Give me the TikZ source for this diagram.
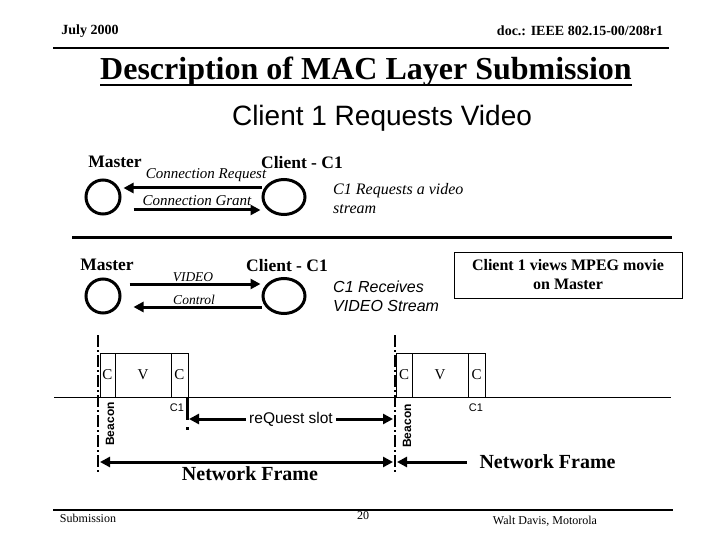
\documentclass[tikz,border=0pt]{standalone}
\usepackage{fontspec}
\setmainfont{Liberation Serif}
\setsansfont{Liberation Sans}
\usepackage{tikz}
\usetikzlibrary{shapes.geometric, arrows.meta, positioning}
\newcommand{\fsz}[1]{\fontsize{#1}{#1}\selectfont}

\begin{document}
\begin{tikzpicture}[x=1pt, y=-1pt,
    master/.style={circle, draw, line width=3pt, minimum size=34pt, inner sep=0pt},
    client/.style={ellipse, draw, line width=3pt, minimum width=42pt, minimum height=35pt, inner sep=0pt},
    arr/.style={-{Triangle[length=10pt,width=10pt]}, line width=3pt},
    darr/.style={{Triangle[length=10pt,width=10pt]}-{Triangle[length=10pt,width=10pt]}, line width=3pt},
    beacon/.style={line width=2.5pt, dash pattern=on 12pt off 3pt on 2pt off 3pt},
    slot/.style={draw, line width=0.8pt, minimum height=44pt, inner sep=0pt, outer sep=0pt,
                 anchor=south west, font=\fsz{15}},
    who/.style={font=\fsz{17.5}\bfseries, inner sep=0pt},
    msg/.style={font=\fsz{15}\itshape, inner sep=0pt},
    note/.style={inner sep=0pt, align=left, anchor=west},
    tiny/.style={font=\sffamily\fsz{11}, inner sep=0pt},
    rot/.style={font=\sffamily\bfseries\fsz{12}, inner sep=0pt, rotate=90},
]
    \useasboundingbox (0,0) rectangle (720,540);

    % page header and footer
    \node[font=\fsz{14}\bfseries] (date) at (90,31) {July 2000};
    \node[font=\fsz{14}\bfseries] (doc) at (580,31) {doc.: IEEE 802.15-00/208r1};
    \coordinate (hl) at (53,48);
    \coordinate (hr) at (669,48);
    \draw[line width=2.5pt] (hl) -- (hr);
    \node[font=\fsz{32}\bfseries, anchor=base, inner sep=0pt] (title) at (366,80) {Description of MAC Layer Submission};
    \draw[line width=2pt] ([yshift=-5pt]title.base west) -- ([yshift=-5pt]title.base east);
    \node[font=\sffamily\fsz{28}] (sub) at (382,118) {Client 1 Requests Video};
    \coordinate (fl) at (53,510);
    \coordinate (fr) at (673,510);
    \draw[line width=2.5pt] (fl) -- (fr);
    \node[font=\fsz{12}] (subm) at (88,518) {Submission};
    \node[font=\fsz{12}] (page) at (363,516) {20};
    \node[font=\fsz{12}] (auth) at (545,521) {Walt Davis, Motorola};

    % connection setup
    \node[who] (m1lab) at (115,162) {Master};
    \node[who] (c1lab) at (302,163) {Client - C1};
    \node[master] (m1) at (103,197) {};
    \node[client] (c1) at (284,197) {};
    \draw[arr] ([yshift=9pt]c1.west) -- ([yshift=9pt,xshift=2pt]m1.east);
    \draw[arr] ([yshift=-13pt,xshift=12pt]m1.east) -- ([yshift=-13pt,xshift=-1pt]c1.west);
    \node[msg] (req) at (206,175) {Connection Request};
    \node[msg] (grant) at (197,201) {Connection Grant};
    \node[note, font=\fsz{16}\itshape] (n1) at (333,199) {C1 Requests a video\\[3pt]stream};

    \coordinate (sl) at (72,237);
    \coordinate (sr) at (672,237);
    \draw[line width=3pt] (sl) -- (sr);

    % video stream
    \node[who] (m2lab) at (107,265) {Master};
    \node[who] (c2lab) at (287,266) {Client - C1};
    \node[master] (m2) at (103,296) {};
    \node[client] (c2) at (284,296) {};
    \draw[arr] ([yshift=12pt,xshift=8pt]m2.east) -- ([yshift=12pt,xshift=-1pt]c2.west);
    \draw[arr] ([yshift=-11pt]c2.west) -- ([yshift=-11pt,xshift=12pt]m2.east);
    \node[msg, font=\fsz{13.5}\itshape] (vid) at (193,277) {VIDEO};
    \node[msg, font=\fsz{13.5}\itshape] (ctl) at (194,300) {Control};
    \node[note, font=\sffamily\fsz{16}\itshape] (n2) at (333,296) {C1 Receives\\[3pt]VIDEO Stream};
    \node[draw, line width=1pt, minimum width=228pt, minimum height=46pt, align=center,
          font=\fsz{16}\bfseries] (box) at (568,275) {Client 1 views MPEG movie\\[3pt]on Master};

    % network frame
    \coordinate (bl) at (54,397);
    \coordinate (br) at (671,397);
    \draw[line width=0.8pt] (bl) -- (br);
    \node[slot, minimum width=15pt] (s1c) at (100,397) {C};
    \node[slot, minimum width=56pt, right=0pt of s1c] (s1v) {V};
    \node[slot, minimum width=17pt, right=0pt of s1v] (s1r) {C};
    \node[slot, minimum width=16pt] (s2c) at (396,397) {C};
    \node[slot, minimum width=56pt, right=0pt of s2c] (s2v) {V};
    \node[slot, minimum width=17pt, right=0pt of s2v] (s2r) {C};
    \node[rot] (bc1) at (110,424) {Beacon};
    \node[rot] (bc2) at (407,426) {Beacon};
    \node[tiny] (q1) at (177,408) {C1};
    \node[tiny] (q2) at (476,408) {C1};

    \coordinate (b1t) at (98,335);
    \coordinate (b1b) at (98,472);
    \coordinate (b2t) at (395,335);
    \coordinate (b2b) at (395,472);
    \draw[beacon] (b1t) -- (b1b);
    \draw[beacon] (b2t) -- (b2b);
    \coordinate (rt) at (187,397);
    \coordinate (rb) at (187,433);
    \draw[line width=3pt, dash pattern=on 23pt off 7pt on 3pt off 20pt] (rt) -- (rb);

    \coordinate (rl) at (189,419);
    \coordinate (rr) at (393,419);
    \draw[darr] (rl) -- node[fill=white, font=\sffamily\fsz{15.5}, inner sep=3pt] (rs) {reQuest slot} (rr);
    \coordinate (f1l) at (100,462);
    \coordinate (f1r) at (393,462);
    \draw[darr] (f1l) -- (f1r);
    \node[font=\fsz{20}\bfseries] (nf1) at (250,474) {Network Frame};
    \coordinate (f2l) at (397,462);
    \coordinate (f2r) at (467,462);
    \draw[{Triangle[length=10pt,width=10pt]}-, line width=3pt] (f2l) -- (f2r);
    \node[font=\fsz{20}\bfseries, anchor=west] (nf2) at (476,462) {Network Frame};
\end{tikzpicture}
\end{document}
